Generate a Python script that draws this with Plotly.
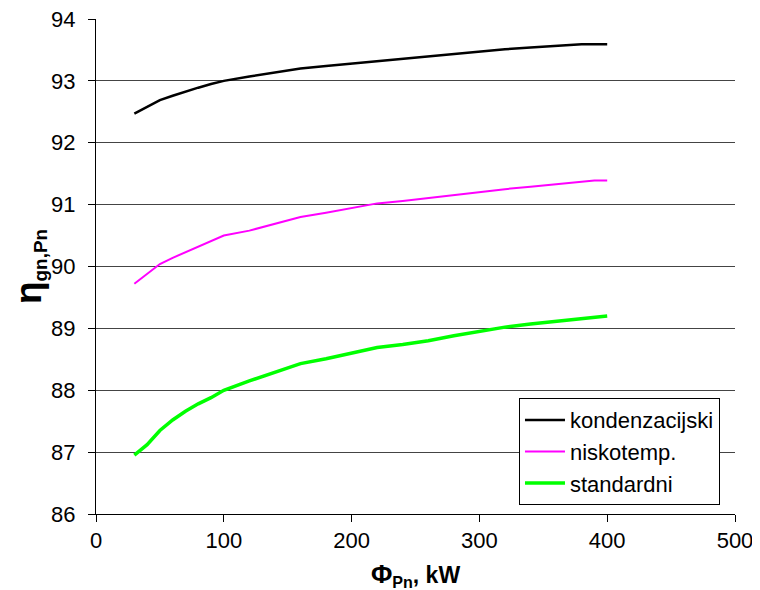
import plotly.graph_objects as go

x_kond = [30, 40, 50, 60, 70, 80, 90, 100, 120, 140, 160, 180, 200, 220, 240, 260, 280, 300, 320, 340, 360, 380, 400]
y_kond = [92.47, 92.58, 92.69, 92.76, 92.83, 92.89, 92.95, 93.00, 93.07, 93.14, 93.20, 93.24, 93.28, 93.32, 93.36, 93.39, 93.44, 93.47, 93.51, 93.54, 93.56, 93.59, 93.59]

x_nisk = [30, 40, 50, 60, 70, 80, 90, 100, 120, 140, 160, 180, 200, 220, 240, 260, 280, 300, 320, 340, 360, 380, 390, 400]
y_nisk = [89.72, 89.88, 90.04, 90.14, 90.23, 90.31, 90.41, 90.50, 90.58, 90.69, 90.80, 90.87, 90.95, 91.02, 91.06, 91.11, 91.16, 91.20, 91.25, 91.29, 91.33, 91.36, 91.39, 91.39]

x_std = [30, 40, 50, 60, 70, 80, 90, 100, 120, 140, 160, 180, 200, 220, 240, 260, 280, 300, 320, 340, 360, 380, 390, 400]
y_std = [86.95, 87.12, 87.35, 87.52, 87.66, 87.78, 87.88, 88.00, 88.15, 88.29, 88.43, 88.51, 88.60, 88.69, 88.74, 88.80, 88.88, 88.95, 89.02, 89.07, 89.11, 89.15, 89.18, 89.20]

names = ["kondenzacijski", "niskotemp.", "standardni"]
colors = ["#000000", "#ff00ff", "#00ff00"]
widths = [2.5, 2, 3.5]

fig = go.Figure()
for xs, ys, n, c, w in zip([x_kond, x_nisk, x_std], [y_kond, y_nisk, y_std], names, colors, widths):
    fig.add_trace(go.Scatter(x=xs, y=ys, name=n, mode="lines",
                             line=dict(color=c, width=w)))

fig.update_layout(
    width=760, height=590,
    margin=dict(l=88, r=33, t=11, b=84),
    paper_bgcolor="white", plot_bgcolor="white",
    font=dict(family="Liberation Sans, Arial, sans-serif", size=22, color="black"),
    showlegend=True,
    legend=dict(x=0.9765, y=0.018, xanchor="right", yanchor="bottom",
                bgcolor="white", bordercolor="black", borderwidth=1,
                font=dict(size=22), tracegroupgap=0, itemwidth=40),
    xaxis=dict(range=[0, 500], dtick=100, showgrid=False, showline=True,
               linecolor="black", linewidth=1, ticks="outside", ticklen=7,
               tickcolor="black", zeroline=False, automargin=False,
               ticklabeloverflow="allow",
               title=dict(text="<b><span style='font-size:26px'>Φ</span><sub>Pn</sub>, kW</b>",
                          font=dict(size=23), standoff=14)),
    yaxis=dict(range=[86, 94], dtick=1, showgrid=True, gridcolor="#444444", gridwidth=1,
               showline=True, linecolor="black", linewidth=1, ticks="outside",
               ticklen=7, tickcolor="black", zeroline=False, automargin=False,
               ticklabelstandoff=8, ticklabeloverflow="allow",
               title=dict(text="<b><span style='font-size:37px'>η</span><sub>gn,Pn</sub></b>",
                          font=dict(size=27), standoff=12)),
)

fig.write_html("out.html")
